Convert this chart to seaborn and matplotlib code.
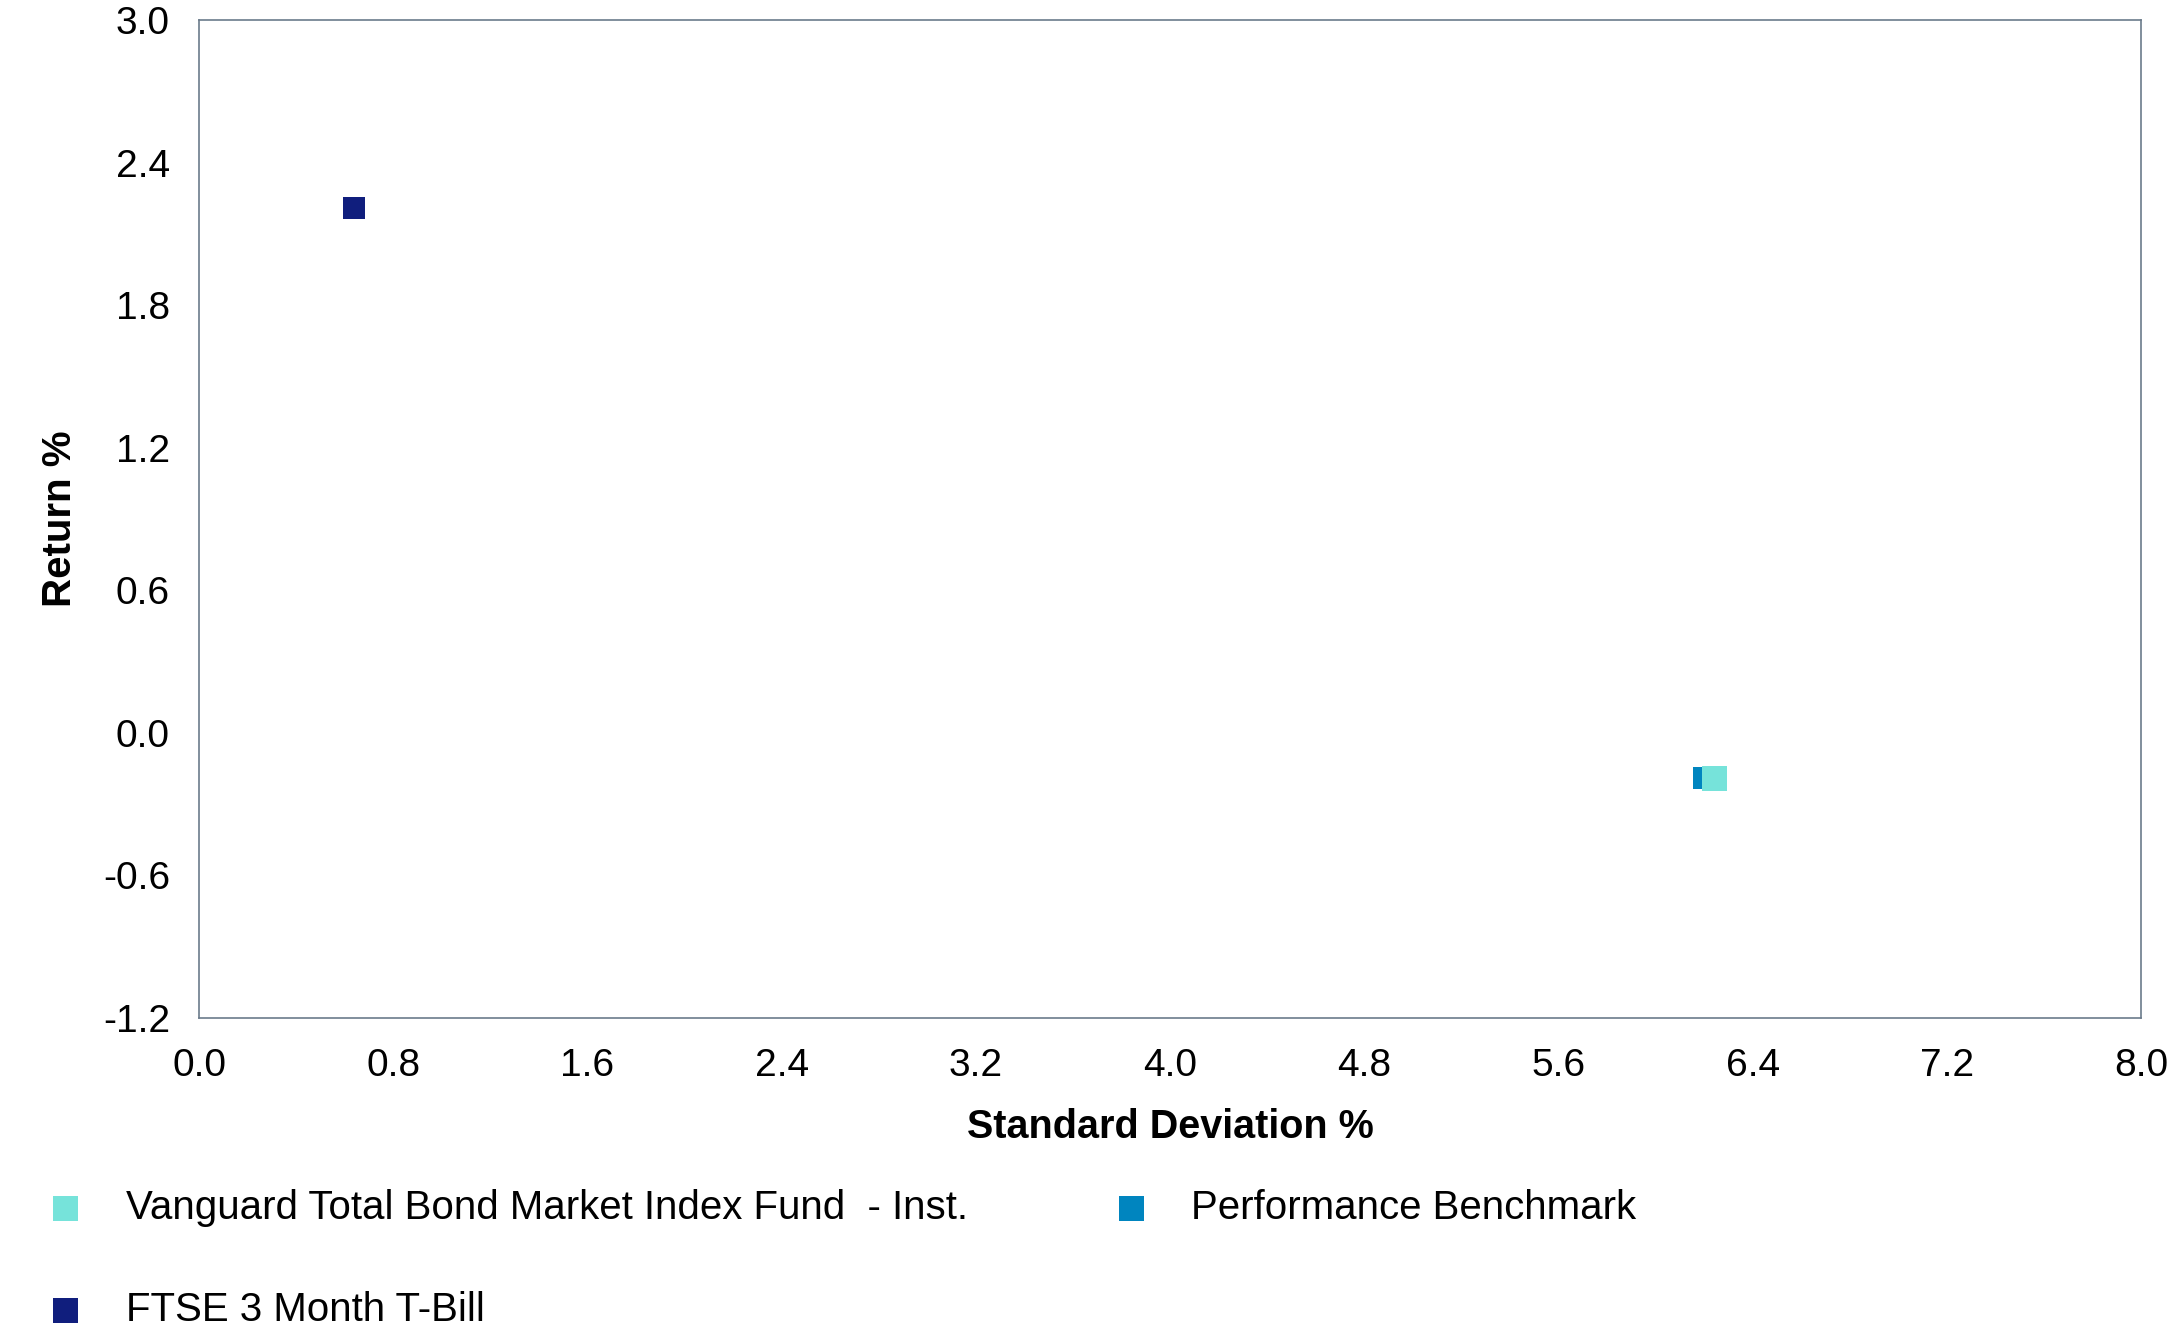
import matplotlib
matplotlib.use("Agg")
import matplotlib.pyplot as plt
import seaborn as sns

# risk / return points
names = ["Performance Benchmark", "Vanguard Total Bond Market Index Fund  - Inst.", "FTSE 3 Month T-Bill"]
std_dev = [6.20, 6.24, 0.64]
returns = [-0.19, -0.19, 2.21]
colors = ["#0085BF", "#76E3DA", "#101E7D"]
sizes = [229, 324, 229]

x_ticks = [0.0, 0.8, 1.6, 2.4, 3.2, 4.0, 4.8, 5.6, 6.4, 7.2, 8.0]
y_ticks = [-1.2, -0.6, 0.0, 0.6, 1.2, 1.8, 2.4, 3.0]

sns.set_style("white")
plt.rcParams["font.family"] = ["Liberation Sans", "DejaVu Sans"]
plt.rcParams["text.color"] = "black"
plt.rcParams["axes.labelcolor"] = "black"

fig = plt.figure(figsize=(21.78, 13.35), dpi=100)
ax = fig.add_axes([0.0914, 0.2375, 0.8916, 0.7475])

for n, x, y, c, s in zip(names, std_dev, returns, colors, sizes):
    sns.scatterplot(x=[x], y=[y], color=c, marker="s", s=s, linewidth=0, ax=ax, label=n)

ax.set_xlim(0, 8)
ax.set_ylim(-1.2, 3.0)
ax.set_xticks(x_ticks)
ax.set_yticks(y_ticks)
ax.set_xticklabels([f"{v:.1f}" for v in x_ticks])
ax.set_yticklabels([f"{v:.1f}" for v in y_ticks])
ax.tick_params(axis="both", which="both", direction="out", length=8, width=1,
               color="#cccccc", labelsize=28, labelcolor="black")
ax.tick_params(axis="y", pad=13)
ax.tick_params(axis="x", pad=14)

for sp in ax.spines.values():
    sp.set_visible(True)
    sp.set_color("#6b7b8b")
    sp.set_linewidth(1.2)

ax.set_xlabel("Standard Deviation %", fontsize=28.5, fontweight="bold", labelpad=17)
ax.set_ylabel("Return %", fontsize=29, fontweight="bold", labelpad=17)

# legend fills column-wise: fund, t-bill | benchmark
h, l = ax.get_legend_handles_labels()
order = [1, 2, 0]
leg = ax.legend([h[i] for i in order], [l[i] for i in order], ncol=2, frameon=False,
                loc="upper left", bbox_to_anchor=(45 / 2178, 1 - 1189 / 1335), bbox_transform=fig.transFigure,
                fontsize=29, handlelength=1.0, handletextpad=1.0, columnspacing=3.55,
                labelspacing=1.58, borderpad=0, borderaxespad=0)
for lh in leg.legend_handles:
    lh.set_sizes([324])

fig.savefig("out.png", dpi=100)
